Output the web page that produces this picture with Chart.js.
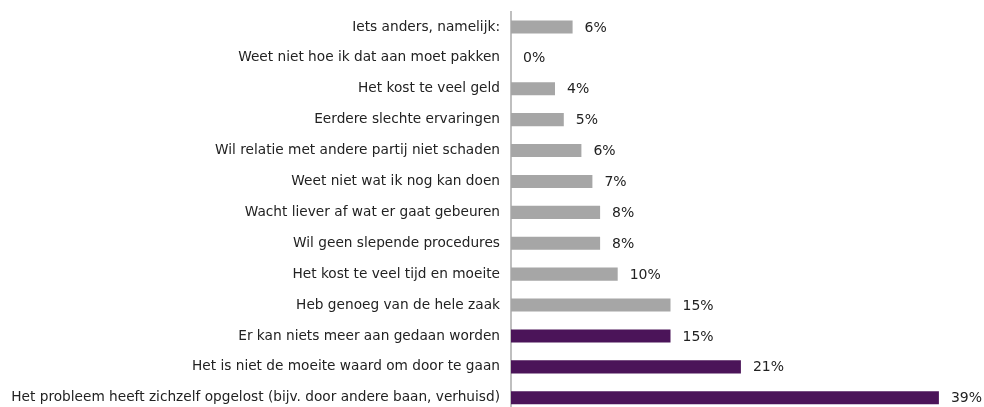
<!DOCTYPE html>
<html>
<head>
<meta charset="utf-8">
<script src="https://cdn.jsdelivr.net/npm/chart.js@4/dist/chart.umd.min.js"></script>
<style>
  html, body { margin: 0; padding: 0; background: #fff; overflow: hidden; }
</style>
</head>
<body>
<canvas id="chart" width="984" height="420"></canvas>
<script>
// Categorieën (van boven naar beneden)
const categories = [
  "Iets anders, namelijk:",
  "Weet niet hoe ik dat aan moet pakken",
  "Het kost te veel geld",
  "Eerdere slechte ervaringen",
  "Wil relatie met andere partij niet schaden",
  "Weet niet wat ik nog kan doen",
  "Wacht liever af wat er gaat gebeuren",
  "Wil geen slepende procedures",
  "Het kost te veel tijd en moeite",
  "Heb genoeg van de hele zaak",
  "Er kan niets meer aan gedaan worden",
  "Het is niet de moeite waard om door te gaan",
  "Het probleem heeft zichzelf opgelost (bijv. door andere baan, verhuisd)"
];

// Percentages (geschat uit de figuur)
const values = [5.6, 0, 4.0, 4.8, 6.4, 7.4, 8.1, 8.1, 9.7, 14.5, 14.5, 20.9, 38.9];

// Labels zoals weergegeven
const valueLabels = ["6%", "0%", "4%", "5%", "6%", "7%", "8%", "8%", "10%", "15%", "15%", "21%", "39%"];

// Kleuren: grijs voor de meeste, paars voor de laatste drie
const highlighted = [false, false, false, false, false, false, false, false, false, false, true, true, true];

const grey = "#a6a6a6";
const purple = "#4b1459";
const fontFamily = "'DejaVu Sans', Verdana, sans-serif";

// Plugin om de percentages naast de balken te tekenen
const valueLabelPlugin = {
  id: "valueLabels",
  afterDatasetsDraw(chart) {
    const ctx = chart.ctx;
    const meta = chart.getDatasetMeta(0);
    ctx.save();
    ctx.font = "14px " + fontFamily;
    ctx.fillStyle = "#222";
    ctx.textAlign = "left";
    ctx.textBaseline = "middle";
    meta.data.forEach((bar, i) => {
      ctx.fillText(valueLabels[i], bar.x + 12, bar.y + 1);
    });
    ctx.restore();
  }
};

new Chart(document.getElementById("chart"), {
  type: "bar",
  data: {
    labels: categories,
    datasets: [
      {
        data: values,
        backgroundColor: highlighted.map((h) => (h ? purple : grey)),
        borderWidth: 0,
        barPercentage: 0.85,
        categoryPercentage: 0.5
      }
    ]
  },
  options: {
    indexAxis: "y",
    responsive: false,
    animation: false,
    layout: {
      padding: { top: 11.5, right: 0, bottom: 6.8, left: 0 }
    },
    plugins: {
      legend: { display: false },
      tooltip: { enabled: false }
    },
    scales: {
      x: {
        display: false,
        min: 0,
        max: 43
      },
      y: {
        afterFit(scale) {
          scale.width = 511;
          scale.paddingTop = 0;
          scale.paddingBottom = 0;
        },
        grid: { display: false, drawTicks: false },
        border: { display: true, color: "#bfbfbf", width: 2 },
        ticks: {
          padding: 11,
          color: "#222",
          font: { family: fontFamily, size: 13.7 }
        }
      }
    }
  },
  plugins: [valueLabelPlugin]
});
</script>
</body>
</html>
